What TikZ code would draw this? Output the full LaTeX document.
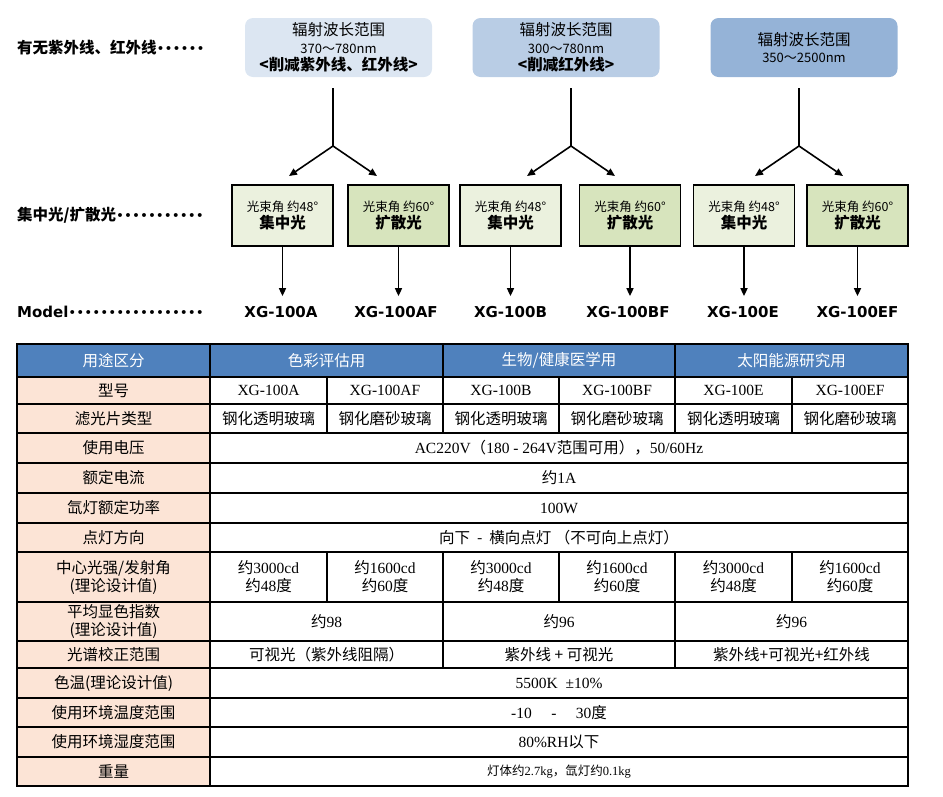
\documentclass[tikz,border=0pt]{standalone}
\usepackage{fontspec}
\setmainfont{Liberation Serif}
\newfontfamily\cjk{Noto Sans CJK SC}
\newfontfamily\vsans{DejaVu Sans}
\usetikzlibrary{arrows.meta}

\definecolor{rangeA}{HTML}{DCE6F2}
\definecolor{rangeB}{HTML}{B9CDE5}
\definecolor{rangeC}{HTML}{95B3D7}
\definecolor{beamA}{HTML}{EBF1DE}
\definecolor{beamB}{HTML}{D7E4BD}
\definecolor{hdblue}{HTML}{4F81BD}
\definecolor{peach}{HTML}{FCE4D6}

\newcommand{\zh}[1]{{\cjk #1}}
\newcommand{\tcell}[5]{%
  \draw[cell] (#1,#3) rectangle (#2,#4);
  \node[celltext] at ({(#1+#2)/2},{(#3+#4)/2}) {#5};}

\tikzset{
  rangebox/.style={rounded corners=8pt,minimum width=187pt,minimum height=59pt,
    align=center,inner sep=0pt,font=\cjk\fontsize{15.5}{17.5}\selectfont},
  beambox/.style={draw=black,line width=1.5pt,minimum width=101pt,minimum height=61pt,
    align=center,inner sep=0pt,font=\cjk\fontsize{15.5}{17}\selectfont},
  model/.style={font=\vsans\bfseries\fontsize{15}{18}\selectfont,inner sep=1pt},
  sidelab/.style={anchor=west,inner sep=0pt,font=\cjk\fontsize{15.5}{18}\selectfont},
  link/.style={line width=1.6pt},
  arr/.style={link,-{Triangle[length=8pt,width=7pt]}},
  cell/.style={draw=black,line width=1.6pt,fill=white},
  celltext/.style={align=center,inner sep=0pt,font=\fontsize{15.5}{18}\selectfont},
  headtext/.style={text=white,font=\cjk\fontsize{15.5}{18}\selectfont},
  labtext/.style={align=center,inner sep=0pt,font=\cjk\fontsize{15.5}{18}\selectfont}
}

\begin{document}
\begin{tikzpicture}[x=1pt,y=-1pt]
\useasboundingbox (0,0) rectangle (943,796);

% side labels
\node[sidelab] (l1) at (17,48) {\textbf{有无紫外线、红外线}{\vsans\fontsize{13.5}{16}\selectfont ••••••}};
\node[sidelab] (l2) at (17,215) {\textbf{集中光/扩散光}{\vsans\fontsize{13.5}{16}\selectfont •••••••••••}};
\node[sidelab] (l3) at (17,312) {{\vsans\bfseries\fontsize{15}{18}\selectfont Model}{\vsans\fontsize{13.5}{16}\selectfont •••••••••••••••••}};

% wavelength ranges
\node[rangebox,fill=rangeA] (r1) at (338.5,47.5) {辐射波长范围\\{\fontsize{13}{15}\selectfont 370～780nm}\\\textbf{<削减紫外线、红外线>}};
\node[rangebox,fill=rangeB] (r2) at (566,47.5) {辐射波长范围\\{\fontsize{13}{15}\selectfont 300～780nm}\\\textbf{<削减红外线>}};
\node[rangebox,fill=rangeC] (r3) at (804,47.5) {辐射波长范围\\{\fontsize{13}{15}\selectfont 350～2500nm}};

% beam angle boxes
\node[beambox,fill=beamA] (a) at (282.5,215.5) {{\fontsize{12.5}{15}\selectfont 光束角 约48°}\\\textbf{集中光}};
\node[beambox,fill=beamB] (af) at (398.5,215.5) {{\fontsize{12.5}{15}\selectfont 光束角 约60°}\\\textbf{扩散光}};
\node[beambox,fill=beamA] (b) at (510.5,215.5) {{\fontsize{12.5}{15}\selectfont 光束角 约48°}\\\textbf{集中光}};
\node[beambox,fill=beamB] (bf) at (630,215.5) {{\fontsize{12.5}{15}\selectfont 光束角 约60°}\\\textbf{扩散光}};
\node[beambox,fill=beamA] (e) at (744,215.5) {{\fontsize{12.5}{15}\selectfont 光束角 约48°}\\\textbf{集中光}};
\node[beambox,fill=beamB] (ef) at (857.5,215.5) {{\fontsize{12.5}{15}\selectfont 光束角 约60°}\\\textbf{扩散光}};

% models
\node[model] (ma) at (281,312) {XG-100A};
\node[model] (maf) at (396,312) {XG-100AF};
\node[model] (mb) at (510.5,312) {XG-100B};
\node[model] (mbf) at (628,312) {XG-100BF};
\node[model] (me) at (743,312) {XG-100E};
\node[model] (mef) at (857.5,312) {XG-100EF};

% branches
\coordinate (j1) at (333,146);
\coordinate (j2) at (571,146);
\coordinate (j3) at (799,146);
\foreach \j/\r in {j1/r1,j2/r2,j3/r3}{
  \draw[link,shorten <=11pt] (\j |- \r.south) -- (\j);
  \draw[arr] (\j) -- ++(-44,30);
  \draw[arr] (\j) -- ++(44,30);
}
\foreach \k in {a,af,b,bf,e,ef}
  \draw[arr] (\k.south) -- ([yshift=9pt]\k.south |- m\k.north);

% table: header
\foreach \xa/\xb/\lab in {17/210/用途区分, 210/443/色彩评估用, 443/675/{生物/健康医学用}, 675/908/太阳能源研究用}
  \draw[cell,fill=hdblue] (\xa,344) rectangle (\xb,377)
    node[headtext] at ({(\xa+\xb)/2},360.5) {\lab};

% table: row labels
\foreach \ya/\yb/\lab in {377/404/型号, 404/433/滤光片类型, 433/463/使用电压,
    463/493/额定电流, 493/523/氙灯额定功率, 523/552/点灯方向,
    552/602/{中心光强/发射角\\(理论设计值)}, 602/641/{平均显色指数\\(理论设计值)},
    641/668/光谱校正范围, 668/698/色温(理论设计值), 698/727/使用环境温度范围,
    727/757/使用环境湿度范围, 757/786/重量}
  \draw[cell,fill=peach] (17,\ya) rectangle (210,\yb)
    node[labtext] at (113.5,{(\ya+\yb)/2}) {\lab};

% table: values
\foreach \xa/\xb/\m in {210/327/XG-100A, 327/443/XG-100AF, 443/559/XG-100B,
    559/675/XG-100BF, 675/792/XG-100E, 792/908/XG-100EF}
  {\tcell{\xa}{\xb}{377}{404}{\m}}
\foreach \xa/\xb/\g in {210/327/钢化透明玻璃, 327/443/钢化磨砂玻璃, 443/559/钢化透明玻璃,
    559/675/钢化磨砂玻璃, 675/792/钢化透明玻璃, 792/908/钢化磨砂玻璃}
  {\tcell{\xa}{\xb}{404}{433}{\zh{\g}}}
\tcell{210}{908}{433}{463}{AC220V\zh{（}180 - 264V\zh{范围可用），}50/60Hz}
\tcell{210}{908}{463}{493}{\zh{约}1A}
\tcell{210}{908}{493}{523}{100W}
\tcell{210}{908}{523}{552}{\zh{向下 \ - \ 横向点灯 （不可向上点灯）}}
\foreach \xa/\xb/\cd/\ang in {210/327/3000/48, 327/443/1600/60, 443/559/3000/48,
    559/675/1600/60, 675/792/3000/48, 792/908/1600/60}
  {\tcell{\xa}{\xb}{552}{602}{\zh{约}\cd cd\\\zh{约}\ang\zh{度}}}
\tcell{210}{443}{602}{641}{\zh{约}98}
\tcell{443}{675}{602}{641}{\zh{约}96}
\tcell{675}{908}{602}{641}{\zh{约}96}
\tcell{210}{443}{641}{668}{\zh{可视光（紫外线阻隔）}}
\tcell{443}{675}{641}{668}{\zh{紫外线 + 可视光}}
\tcell{675}{908}{641}{668}{\zh{紫外线+可视光+红外线}}
\tcell{210}{908}{668}{698}{5500K \ ±10\%}
\tcell{210}{908}{698}{727}{-10 \quad - \quad 30\zh{度}}
\tcell{210}{908}{727}{757}{80\%RH\zh{以下}}
\tcell{210}{908}{757}{786}{\fontsize{12.5}{15}\selectfont\zh{灯体约}2.7kg\zh{，氙灯约}0.1kg}
\end{tikzpicture}
\end{document}
